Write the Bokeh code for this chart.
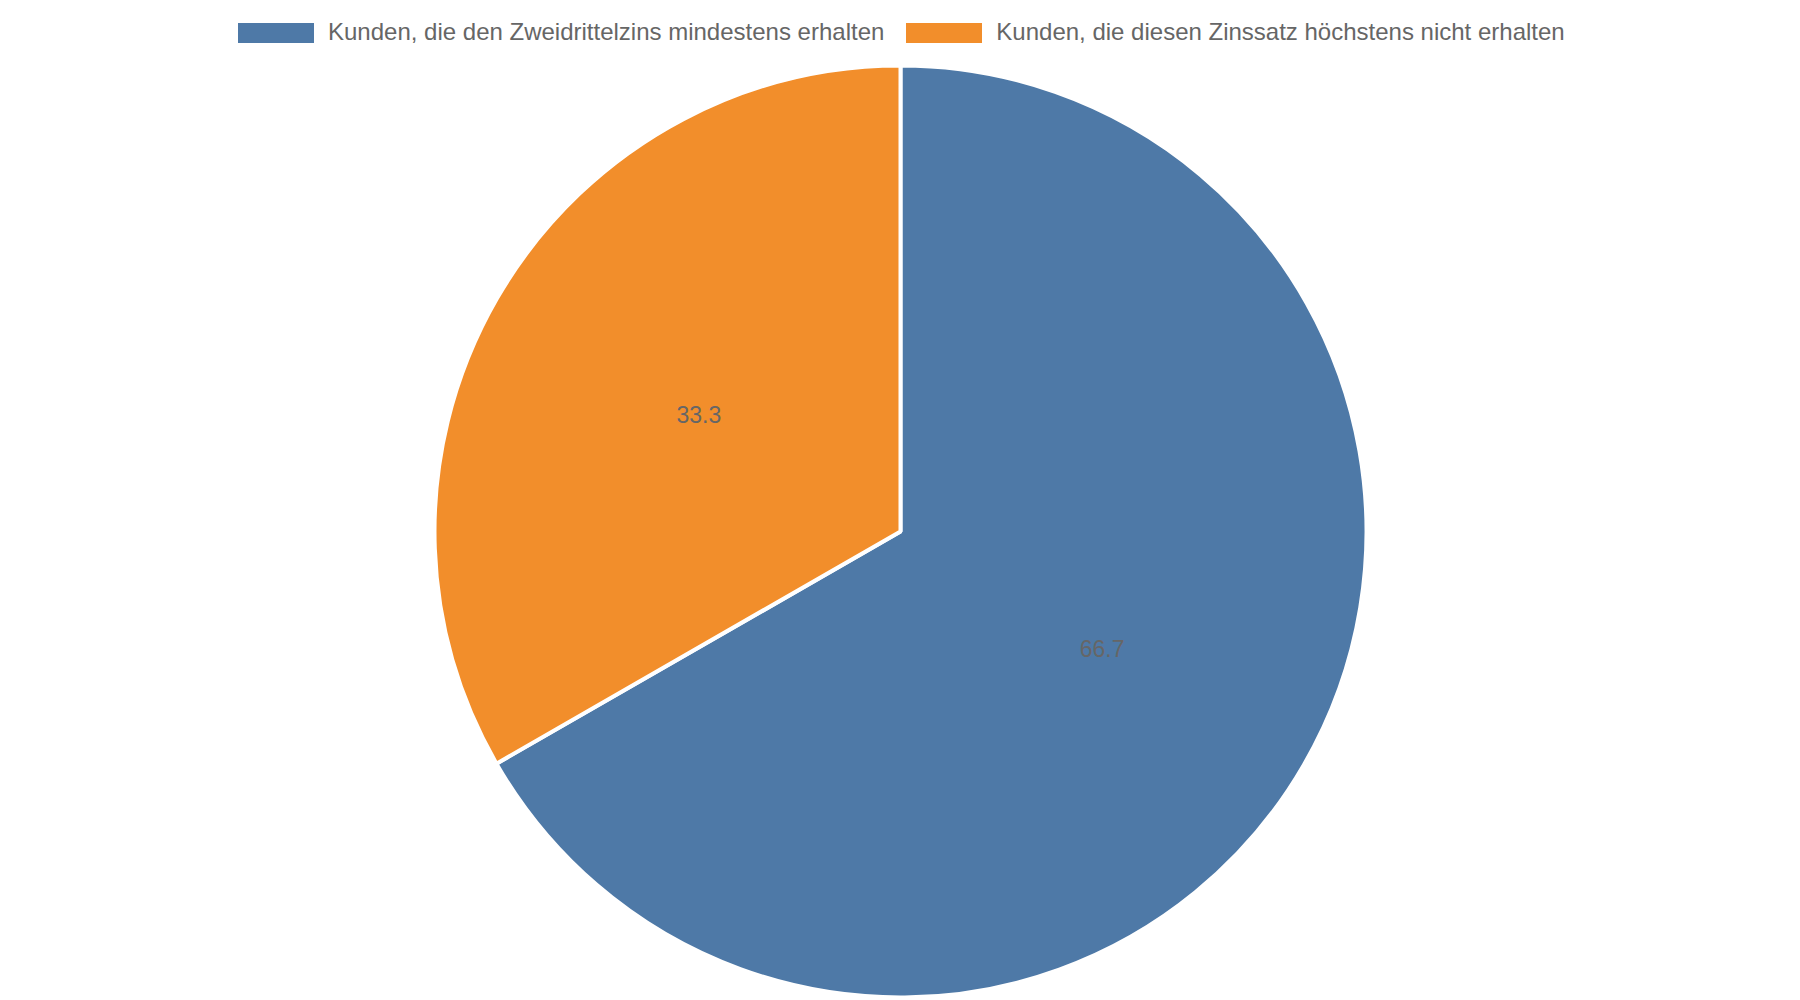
import math
from bokeh.plotting import figure
from bokeh.models import ColumnDataSource, Range1d, Legend, LegendItem
from bokeh.core.properties import value
from bokeh.embed import file_html
from bokeh.resources import INLINE

categories = [
    "Kunden, die den Zweidrittelzins mindestens erhalten",
    "Kunden, die diesen Zinssatz höchstens nicht erhalten",
]
values = [66.7, 33.3]
colors = ["#4e79a7", "#f28e2b"]
labels = ["66.7", "33.3"]

W, H = 1800, 1000
CX, CY = 900, 469
R = 466

total = sum(values)
starts, ends, lx, ly = [], [], [], []
cum = 0.0
for v in values:
    a0 = math.pi / 2 - 2 * math.pi * (cum + v) / total
    a1 = math.pi / 2 - 2 * math.pi * cum / total
    starts.append(a0)
    ends.append(a1)
    mid = (a0 + a1) / 2
    lx.append(CX + 0.5 * R * math.cos(mid))
    ly.append(CY + 0.5 * R * math.sin(mid))
    cum += v

src = ColumnDataSource(dict(cat=categories, val=values, color=colors,
                            start=starts, end=ends, lx=lx, ly=ly, label=labels,
                            x=[CX] * len(values), y=[CY] * len(values)))

p = figure(width=W, height=H, output_backend="svg", toolbar_location=None,
           x_range=Range1d(0, W), y_range=Range1d(0, H), min_border=0)
p.axis.visible = False
p.grid.visible = False
p.outline_line_color = None
p.background_fill_color = "white"

r = p.wedge(x="x", y="y", radius=R, radius_units="screen", start_angle="start", end_angle="end",
            direction="anticlock", fill_color="color", line_color="white", line_width=4, source=src)

# zero-area swatch renderer used only for the legend glyphs
sw = p.quad(left="x", right="x", top="y", bottom="y", fill_color="color", line_color=None, source=src)

p.text(x="lx", y="ly", text="label", source=src, text_align="center", text_baseline="middle",
       text_font=value("Liberation Sans"), text_font_size="23px", text_color="#666666")

items = [LegendItem(label=c, renderers=[sw], index=i) for i, c in enumerate(categories)]
legend = Legend(items=items, orientation="horizontal", location=(228, 954),
                glyph_width=95, glyph_height=25, label_standoff=5, spacing=12,
                label_text_font="Liberation Sans", label_text_font_size="24px",
                label_text_color="#666666", border_line_color=None,
                background_fill_alpha=0, padding=0, margin=0)
p.add_layout(legend)

open("out.html", "w").write(file_html(p, INLINE))
